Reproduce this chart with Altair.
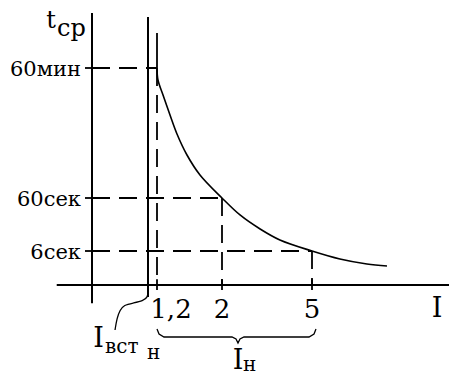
import altair as alt
import pandas as pd

# Current in multiples of the rated current, response time in seconds
tick_I = [1.2, 2, 5]
tick_I_labels = ["1,2", "2", "5"]
level_t = [3600, 60, 6]
level_labels = ["60мин", "60сек", "6сек"]
I_vst = 1.0  # rated current of the fuse link

# Time-current characteristic of the fuse
curve_I = [1.2, 1.212, 1.274, 1.36, 1.446, 1.569, 1.729, 2.0, 2.6, 3.27, 3.93, 5.0, 5.93, 6.83, 7.5]
curve_t = [3600, 3273, 2865, 2320, 1803, 1231, 687, 60, 42.7, 28.4, 17.2, 6, 4.59, 3.71, 3.35]

# Extents of the axes and guide lines
x_axis_I = [-0.63, 9.7]
y_axis_t = [-3.2, 5100]
vst_line_t = [-2.1, 4990]
top_line_t = 4553

# Leader from the I_vst line to its label, and the brace under the 1,2..5 range
hook_I = [1.0, 1.0, 0.911, 0.732, 0.571, 0.5, 0.446, 0.411]
hook_t = [-1.0, -2.12, -2.82, -3.18, -3.53, -4.41, -5.82, -7.94]
brace_I = [1.2, 1.225, 1.286, 2.333, 2.467, 2.533, 2.6, 2.733, 4.9, 5.067, 5.133]
brace_t = [-7.76, -8.65, -9.18, -9.18, -9.53, -10.24, -9.53, -9.18, -9.18, -8.65, -7.76]
axis_title_I = 9.17

FONT = "DejaVu Serif"
INK = "#000000"

xs = alt.Scale(domain=[0, 1, 1.2, 2, 5], range=[92, 148, 157, 222, 312], zero=False, nice=False)
ys = alt.Scale(domain=[0, 6, 60, 3600], range=[285, 251, 198, 68], zero=False, nice=False)


def X(field="I"):
    return alt.X(f"{field}:Q", scale=xs, axis=None)


def Y(field="t"):
    return alt.Y(f"{field}:Q", scale=ys, axis=None)


def rules(df, width=1.5, dash=None):
    kw = dict(color=INK, strokeWidth=width)
    if dash:
        kw["strokeDash"] = dash
    return alt.Chart(df).mark_rule(**kw).encode(
        x=X("I"), x2=alt.X2("I2"), y=Y("t"), y2=alt.Y2("t2")
    )


def path(I, t, width=1.5, interp="linear"):
    df = pd.DataFrame({"I": I, "t": t, "k": range(len(I))})
    return alt.Chart(df).mark_line(color=INK, strokeWidth=width, interpolate=interp).encode(
        x=X(), y=Y(), order=alt.Order("k:Q")
    )


def label(I, t, text, size, align="center", dx=0, dy=0):
    df = pd.DataFrame({"I": I, "t": t, "txt": text})
    return alt.Chart(df).mark_text(
        font=FONT, fontSize=size, align=align, baseline="alphabetic", dx=dx, dy=dy, color=INK
    ).encode(x=X(), y=Y(), text="txt:N")


# Axes and the I_vst line
axes = rules(pd.DataFrame({
    "I": [x_axis_I[0], 0, I_vst],
    "I2": [x_axis_I[1], 0, I_vst],
    "t": [0, y_axis_t[0], vst_line_t[0]],
    "t2": [0, y_axis_t[1], vst_line_t[1]],
}), width=2)

# Solid upper part of the 1,2 line
top_line = rules(pd.DataFrame({"I": [tick_I[0]], "I2": [tick_I[0]], "t": [level_t[0]], "t2": [top_line_t]}), width=1.8)

# Dashed projections from the characteristic to both axes
h_dash = rules(pd.DataFrame({"I": [0] * 3, "I2": tick_I, "t": level_t, "t2": level_t}), width=1.8, dash=[18, 9])
v_dash = rules(pd.DataFrame({"I": tick_I, "I2": tick_I, "t": level_t, "t2": [0] * 3}), width=1.8, dash=[18, 9])

# Tick marks on both axes
y_ticks = rules(pd.DataFrame({"I": [-0.125] * 3, "I2": [0.125] * 3, "t": level_t, "t2": level_t}), width=1.8)
x_ticks = rules(pd.DataFrame({"I": tick_I, "I2": tick_I, "t": [1.0] * 3, "t2": [-0.9] * 3}), width=1.8)

curve = path(curve_I, curve_t, width=1.6, interp="catmull-rom")
hook = path(hook_I, hook_t, width=1.3, interp="basis")
brace = path(brace_I, brace_t, width=1.3)

y_labels = label([0] * 3, level_t, level_labels, 21, align="right", dx=-11, dy=8)
x_label_first = label([tick_I[0]], [0], [tick_I_labels[0]], 26, dx=14, dy=33)
x_labels = label(tick_I[1:], [0, 0], tick_I_labels[1:], 26, dy=33)
x_title = label([axis_title_I], [0], ["I"], 27, dy=32)

t_main = label([0], [y_axis_t[1]], ["t"], 24, dx=-41, dy=15)
t_sub = label([0], [y_axis_t[1]], ["ср"], 24, align="left", dx=-35, dy=23)

vst_I = label([hook_I[-1]], [hook_t[-1]], ["I"], 27, dx=-16.5, dy=17)
vst_sub = label([hook_I[-1]], [hook_t[-1]], ["вст"], 20, align="left", dx=-10, dy=23)
vst_sub2 = label([hook_I[-1]], [hook_t[-1]], ["н"], 20, align="left", dx=32, dy=29)

n_I = label([brace_I[5]], [brace_t[5]], ["I"], 27, dy=26)
n_sub = label([brace_I[5]], [brace_t[5]], ["н"], 20, align="left", dx=5, dy=28)

chart = alt.layer(
    h_dash, v_dash, axes, top_line, y_ticks, x_ticks, curve, hook, brace,
    y_labels, x_label_first, x_labels, x_title, t_main, t_sub,
    vst_I, vst_sub, vst_sub2, n_I, n_sub,
).properties(
    width=449, height=376, padding=0, autosize=alt.AutoSizeParams(type="none"),
    background="white",
).configure_view(stroke=None)

chart.save("out.html", embed_options={"renderer": "svg", "actions": False})
